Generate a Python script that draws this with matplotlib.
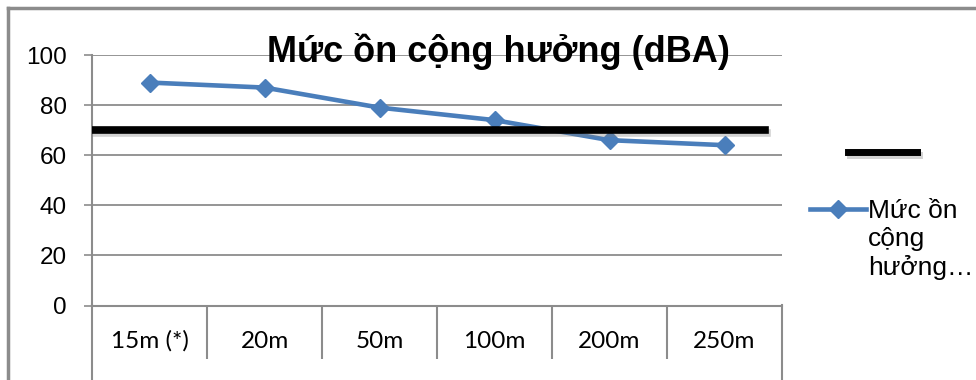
import matplotlib.pyplot as plt
from matplotlib.lines import Line2D
import matplotlib.patheffects as pe

# du lieu
categories = ["15m (*)", "20m", "50m", "100m", "200m", "250m"]
noise_levels = [89, 87, 79, 74, 66, 64]
noise_limit = 70
series_label = "Mức ồn\ncộng\nhưởng…"
chart_title = "Mức ồn cộng hưởng (dBA)"

BLUE = "#4a7ebb"
GRID = "#8c8c8c"

plt.rcParams["font.family"] = ["Liberation Sans", "DejaVu Sans"]

fig = plt.figure(figsize=(9.76, 3.8), dpi=100)
W, H = 976.0, 380.0

def fx(px):
  return px / W

def fy(py):
  return 1 - py / H

ax = fig.add_axes([fx(92), fy(305.5), fx(782) - fx(92), fy(55) - fy(305.5)])

x = list(range(len(categories)))
ax.plot(x, noise_levels, color=BLUE, lw=3.3, marker="D", ms=9, zorder=3)

# duong gioi han
shadow = [pe.SimpleLineShadow(offset=(1.5, -2), alpha=0.35, shadow_color="gray"), pe.Normal()]
ax.axhline(noise_limit, xmin=0, xmax=0.975, color="black", lw=5.5, zorder=4, path_effects=shadow)

ax.set_xlim(-0.5, len(categories) - 0.5)
ax.set_ylim(0, 100)
ax.set_yticks(range(0, 101, 20))
ax.tick_params(axis="y", length=6, width=1.2, color=GRID, labelsize=17.5, pad=12)
ax.yaxis.grid(True, color=GRID, lw=1.3)
ax.set_axisbelow(True)

# truc x kieu hop
ax.set_xticks([i + 0.5 for i in x[:-1]])
ax.set_xticklabels([])
ax.set_xticks(x, minor=True)
ax.set_xticklabels(categories, minor=True, fontsize=17.5, family=["Lato", "DejaVu Sans"])
ax.tick_params(axis="x", which="major", length=38, width=1.5, color=GRID, direction="out")
ax.tick_params(axis="x", which="minor", length=0, pad=18)

for s in ["top", "right"]:
  ax.spines[s].set_visible(False)
ax.spines["left"].set_color(GRID)
ax.spines["left"].set_linewidth(1.5)
ax.spines["bottom"].set_color(GRID)
ax.spines["bottom"].set_linewidth(1.5)

# canh ngoai cua hop nhan
for px in (92, 782):
  fig.add_artist(Line2D([fx(px), fx(px)], [fy(305), 0], color=GRID, lw=1.5))

# khung ngoai
fig.add_artist(Line2D([fx(8), 1], [fy(8), fy(8)], color=GRID, lw=2.5))
fig.add_artist(Line2D([fx(8), fx(8)], [fy(8), 0], color=GRID, lw=2.5))

fig.text(fx(498), fy(51), chart_title, ha="center", va="center", fontsize=26, fontweight="bold")

# chu giai
fig.add_artist(Line2D([fx(848), fx(917)], [fy(152), fy(152)], color="black", lw=5, path_effects=shadow))
fig.add_artist(Line2D([fx(810), fx(866)], [fy(209), fy(209)], color=BLUE, lw=3.3))
fig.add_artist(Line2D([fx(838)], [fy(209)], color=BLUE, marker="D", ms=9))
fig.text(fx(868), fy(199), series_label, ha="left", va="top", fontsize=19, linespacing=1.2)

fig.savefig("out.png", dpi=100)
